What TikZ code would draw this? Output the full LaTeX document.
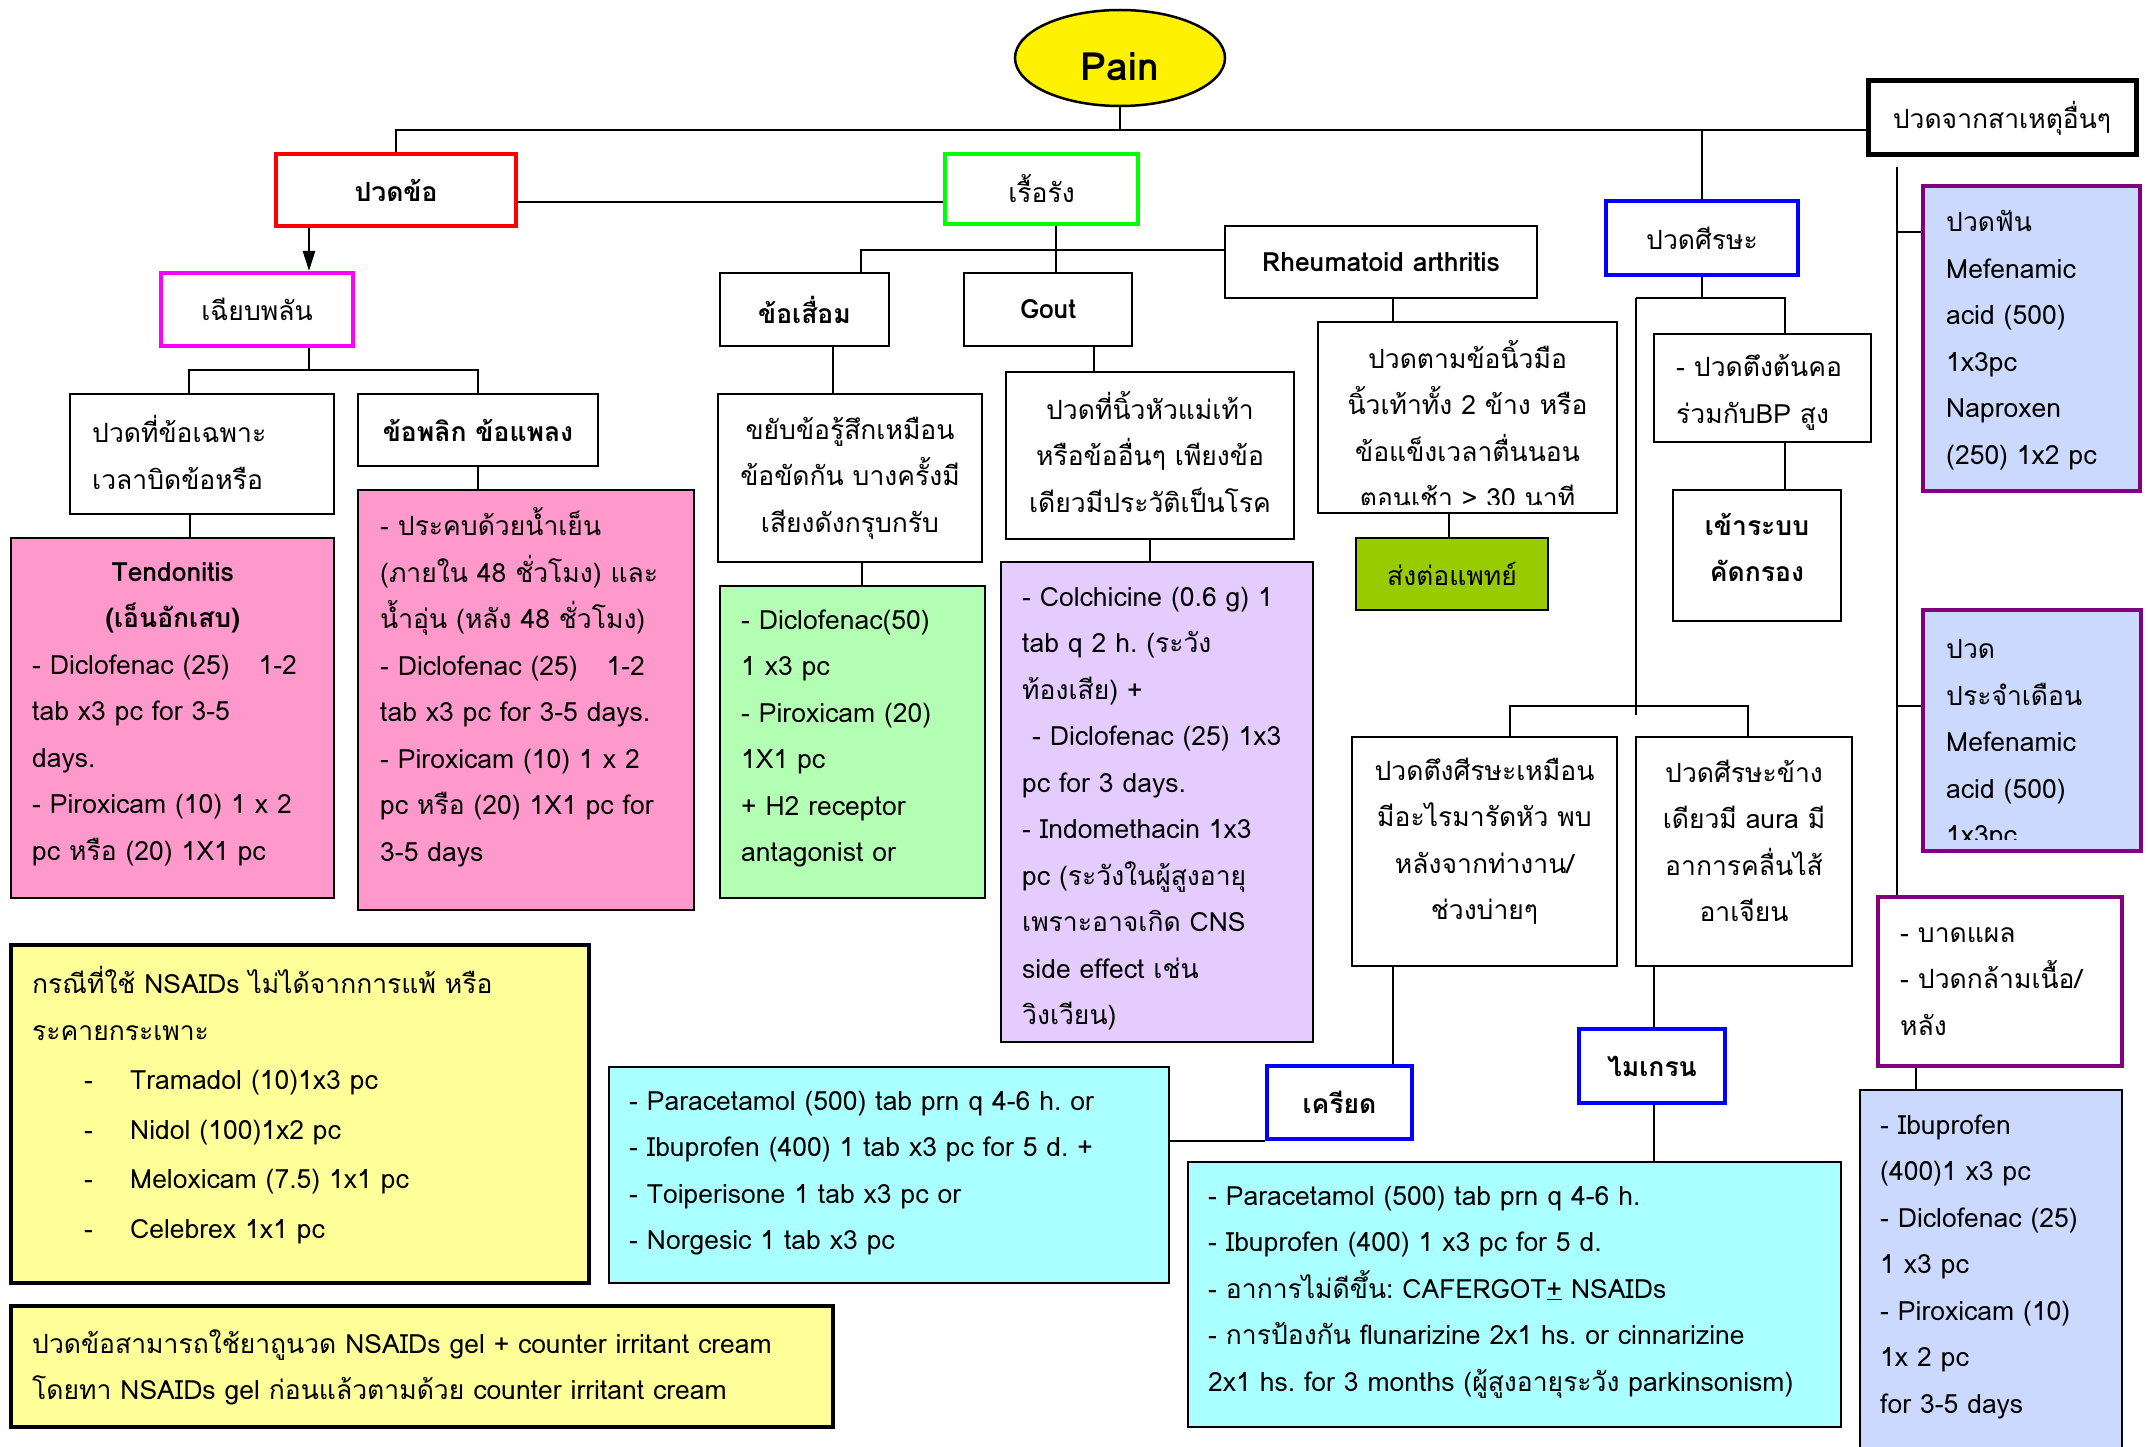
\documentclass[tikz,border=0pt]{standalone}
\usepackage{fontspec}
\setmainfont{Loma}[Script=Thai]
\usetikzlibrary{shapes.geometric,arrows.meta,calc}
\definecolor{pinkF}{HTML}{FF99CC}
\definecolor{lgreenF}{HTML}{B3FFB3}
\definecolor{lavF}{HTML}{E5CCFF}
\definecolor{cyanF}{HTML}{AAFFFF}
\definecolor{yelF}{HTML}{FFFF99}
\definecolor{periF}{HTML}{CCD9FF}
\definecolor{purB}{HTML}{800080}
\definecolor{referF}{HTML}{99CC00}
\definecolor{redB}{HTML}{FF0000}
\definecolor{greenB}{HTML}{00FF00}
\definecolor{magB}{HTML}{FF00FF}
\definecolor{blueB}{HTML}{0000FF}
\newcommand\fz{\fontsize{26.5}{46.5}\selectfont\frenchspacing}
\tikzset{
  bx/.style={draw, line width=2.5pt, inner sep=0pt, font=\fz, align=center},
  cb/.style={line width=4pt},
  thk/.style={line width=5pt},
  ln/.style={line width=2.5pt},
  txt/.style={inner sep=0pt, font=\fz},
  lft/.style={txt, align=left, anchor=west},
  ctr/.style={txt, align=center},
}
\newcommand\Bx[7][]{\node[bx,minimum width={#5-#3},minimum height={#6-#4},#1] (#2) at ({(#3+#5)/2},{(#4+#6)/2}) {#7};}
\begin{document}
\begin{tikzpicture}[x=1pt,y=-1pt]
\fill[white] (0,0) rectangle (2148,1447);
\useasboundingbox (0,0) rectangle (2148,1447);

% ---------- Pain ----------
\node[ellipse, draw, line width=2.5pt, fill=yellow, minimum width=210pt, minimum height=96pt, inner sep=0pt] (pain) at (1120,58) {};
\node[txt, font=\fontsize{39}{44}\selectfont\bfseries] (paint) at (1120,67) {Pain};

% ---------- level 1 ----------
\Bx[draw=redB,cb,font=\fz\bfseries]{pk}{276}{154}{516}{226}{ปวดข้อ}
\Bx[draw=greenB,cb]{cr}{945}{154}{1138}{224}{เรื้อรัง}
\Bx[thk]{other}{1868}{81}{2136}{155}{ปวดจากสาเหตุอื่นๆ}
\Bx[draw=blueB,cb]{head}{1606}{201}{1798}{275}{ปวดศีรษะ}

% ---------- acute branch ----------
\Bx[draw=magB,cb]{ac}{161}{273}{353}{346}{เฉียบพลัน}
\Bx{loc}{70}{394}{334}{514}{}
\node[lft] (loct) at (92,452.5) {ปวดที่ข้อเฉพาะ\\เวลาบิดข้อหรือ};
\Bx[font=\fz\bfseries]{sp}{358}{394}{598}{466}{ข้อพลิก ข้อแพลง}
\Bx[fill=pinkF]{pinkb}{358}{490}{694}{910}{}
\node[lft] (pinkt) at (380,687) {- ประคบด้วยน้ำเย็น\\(ภายใน 48 ชั่วโมง) และ\\น้ำอุ่น (หลัง 48 ชั่วโมง)\\- Diclofenac (25)\hspace{20pt} 1-2\\tab x3 pc for 3-5 days.\\- Piroxicam (10) 1 x 2\\pc หรือ (20) 1X1 pc for\\3-5 days};
\Bx[fill=pinkF]{tendo}{11}{538}{334}{898}{}
\node[lft] (tendot) at (32,714) {\makebox[281pt][c]{\bfseries Tendonitis}\\\makebox[281pt][c]{\bfseries (เอ็นอักเสบ)}\\- Diclofenac (25)\hspace{20pt} 1-2\\tab x3 pc for 3-5\\days.\\- Piroxicam (10) 1 x 2\\pc หรือ (20) 1X1 pc};

% ---------- chronic branch ----------
\Bx[font=\fz\bfseries]{oa}{720}{273}{889}{346}{ข้อเสื่อม}
\Bx[font=\fz\bfseries]{gout}{964}{273}{1132}{346}{Gout}
\Bx[font=\fz\bfseries]{ra}{1225}{226}{1537}{298}{Rheumatoid arthritis}
\Bx{oad}{718}{394}{982}{562}{ขยับข้อรู้สึกเหมือน\\ข้อขัดกัน บางครั้งมี\\เสียงดังกรุบกรับ}
\Bx[fill=lgreenF]{grn}{720}{586}{985}{898}{}
\node[lft] (grnt) at (741,738.5) {- Diclofenac(50)\\1 x3 pc\\- Piroxicam (20)\\1X1 pc\\+ H2 receptor\\antagonist or};
\Bx{goutd}{1006}{372}{1294}{539}{}
\node[ctr] (goutdt) at (1150,452) {ปวดที่นิ้วหัวแม่เท้า\\หรือข้ออื่นๆ เพียงข้อ\\เดียวมีประวัติเป็นโรค};
\Bx[fill=lavF]{pur}{1001}{562}{1313}{1042}{}
\node[lft] (purt) at (1022,808.5) {- Colchicine (0.6 g) 1\\tab q 2 h. (ระวัง\\ท้องเสีย) +\\\hspace*{10pt}- Diclofenac (25) 1x3\\pc for 3 days.\\- Indomethacin 1x3\\pc (ระวังในผู้สูงอายุ\\เพราะอาจเกิด CNS\\side effect เช่น\\วิงเวียน)};
\Bx{rad}{1318}{322}{1617}{513}{}
\begin{scope}
\clip ([shift={(2pt,10pt)}]rad.south west) rectangle ([shift={(-2pt,-2pt)}]rad.north east);
\node[ctr] (radt) at (1467.5,424) {ปวดตามข้อนิ้วมือ\\นิ้วเท้าทั้ง 2 ข้าง หรือ\\ข้อแข็งเวลาตื่นนอน\\ตอนเช้า > 30 นาที};
\end{scope}
\Bx[fill=referF]{refer}{1356}{538}{1548}{610}{ส่งต่อแพทย์}

% ---------- headache branch ----------
\Bx{neck}{1654}{334}{1871}{442}{}
\node[lft] (neckt) at (1676,392.5) {- ปวดตึงต้นคอ\\ร่วมกับBP สูง};
\Bx{screen}{1673}{490}{1841}{621}{}
\node[ctr, font=\fz\bfseries] (screent) at (1757,547.5) {เข้าระบบ\\คัดกรอง};
\Bx{tens}{1352}{737}{1617}{966}{}
\node[ctr] (tenst) at (1484.5,841) {ปวดตึงศีรษะเหมือน\\มีอะไรมารัดหัว พบ\\หลังจากท่างาน/\\ช่วงบ่ายๆ};
\Bx{migd}{1636}{737}{1852}{966}{}
\node[ctr] (migdt) at (1744,841) {ปวดศีรษะข้าง\\เดียวมี aura มี\\อาการคลื่นไส้\\อาเจียน};
\Bx[draw=blueB,cb,font=\fz\bfseries]{stress}{1267}{1066}{1412}{1139}{เครียด}
\Bx[draw=blueB,cb,font=\fz\bfseries]{mig}{1579}{1029}{1725}{1103}{ไมเกรน}
\Bx[fill=cyanF]{cy2}{1188}{1162}{1841}{1427}{}
\node[lft] (cy2t) at (1208,1292) {- Paracetamol (500) tab prn q 4-6 h.\\- Ibuprofen (400) 1 x3 pc for 5 d.\\- อาการไม่ดีขึ้น: CAFERGOT\underline{+} NSAIDs\\- การป้องกัน flunarizine 2x1 hs. or cinnarizine\\2x1 hs. for 3 months (ผู้สูงอายุระวัง parkinsonism)};
\Bx[fill=cyanF]{cy1}{609}{1067}{1169}{1283}{}
\node[lft] (cy1t) at (629,1173) {- Paracetamol (500) tab prn q 4-6 h. or\\- Ibuprofen (400) 1 tab x3 pc for 5 d. +\\- Toiperisone 1 tab x3 pc or\\- Norgesic 1 tab x3 pc};

% ---------- notes ----------
\Bx[fill=yelF,line width=4.5pt]{yel1}{11}{945}{589}{1283}{}
\node[lft] (yel1t) at (32,1105) {กรณีที่ใช้ NSAIDs ไม่ได้จากการแพ้ หรือ\\ระคายกระเพาะ\\[3pt]\hspace*{52pt}\makebox[46pt][l]{-}Tramadol (10)1x3 pc\\[3pt]\hspace*{52pt}\makebox[46pt][l]{-}Nidol (100)1x2 pc\\[3pt]\hspace*{52pt}\makebox[46pt][l]{-}Meloxicam (7.5) 1x1 pc\\[3pt]\hspace*{52pt}\makebox[46pt][l]{-}Celebrex 1x1 pc};
\Bx[fill=yelF,line width=4.5pt]{yel2}{11}{1306}{833}{1427}{}
\node[lft] (yel2t) at (32,1367.5) {ปวดข้อสามารถใช้ยาถูนวด NSAIDs gel + counter irritant cream\\โดยทา NSAIDs gel ก่อนแล้วตามด้วย counter irritant cream};

% ---------- other causes ----------
\Bx[fill=periF,draw=purB,cb]{tooth}{1923}{186}{2140}{491}{}
\node[lft] (tootht) at (1946,340) {ปวดฟัน\\Mefenamic\\acid (500)\\1x3pc\\Naproxen\\(250) 1x2 pc};
\Bx[fill=periF,draw=purB,cb]{mens}{1923}{610}{2141}{851}{}
\begin{scope}
\clip ([shift={(3pt,14pt)}]mens.south west) rectangle ([shift={(-3pt,-3pt)}]mens.north east);
\node[lft] (menst) at (1946,745) {ปวด\\ประจำเดือน\\Mefenamic\\acid (500)\\1x3pc};
\end{scope}
\Bx[draw=purB,cb]{wound}{1878}{897}{2122}{1066}{}
\node[lft] (woundt) at (1900,981.5) {- บาดแผล\\- ปวดกล้ามเนื้อ/\\หลัง};
\Bx[fill=periF]{rx}{1860}{1090}{2122}{1470}{}
\node[lft] (rxt) at (1880,1266.5) {- Ibuprofen\\(400)1 x3 pc\\- Diclofenac (25)\\1 x3 pc\\- Piroxicam (10)\\1x 2 pc\\for 3-5 days};

% ---------- connectors ----------
\coordinate (T) at (0,130);
\draw[ln] (pk.north) -- (pk.north |- T) -- (T -| other.west);
\draw[ln] (pain.south) -- (pain.south |- T);
\draw[ln] (head.north) -- (head.north |- T);
\draw[ln] ([yshift=-12pt]pk.east) -- ([yshift=-12pt]pk.east -| cr.west);
\draw[ln,-{Triangle[length=20pt,width=12pt]}] ([xshift=-87pt]pk.south) -- ([xshift=-87pt]pk.south |- ac.north);
% acute
\coordinate (J1) at (309,370);
\draw[ln] (ac.south -| J1) -- (J1);
\draw[ln] ([xshift=-13pt]loc.north) -- ([xshift=-13pt]loc.north |- J1) -- (sp.north |- J1) -- (sp.north);
\draw[ln] ([xshift=-12pt]loc.south) -- ([xshift=-12pt]loc.south |- tendo.north);
\draw[ln] (sp.south) -- (sp.south |- pinkb.north);
% chronic
\coordinate (J2) at (861,250);
\draw[ln] ([xshift=14.5pt]cr.south) -- ([xshift=14.5pt]cr.south |- gout.north);
\draw[ln] (oa.north -| J2) -- (J2) -- (J2 -| ra.west);
\draw[ln] ([xshift=28.5pt]oa.south) -- ([xshift=28.5pt]oa.south |- oad.north);
\draw[ln] ([xshift=12pt]oad.south) -- ([xshift=12pt]oad.south |- grn.north);
\draw[ln] ([xshift=46pt]gout.south) -- ([xshift=46pt]gout.south |- goutd.north);
\draw[ln] (goutd.south) -- (goutd.south |- pur.north);
\draw[ln] ([xshift=12pt]ra.south) -- ([xshift=12pt]ra.south |- rad.north);
\draw[ln] ([xshift=-18.5pt]rad.south) -- ([xshift=-18.5pt]rad.south |- refer.north);
% headache
\coordinate (H1) at (1636,298);
\coordinate (H2) at (1785,298);
\coordinate (H3) at (1636,715);
\coordinate (H4) at (1510,706);
\coordinate (H5) at (1748,706);
\draw[ln] (head.south) -- (head.south |- H1);
\draw[ln] (H1) -- (H2) -- (H2 |- neck.north);
\draw[ln] (H1) -- (H3);
\draw[ln] (H2 |- neck.south) -- (H2 |- screen.north);
\draw[ln] (H4 |- tens.north) -- (H4) -- (H5) -- (H5 |- migd.north);
\draw[ln] ([xshift=-91.5pt]tens.south) -- ([xshift=-91.5pt]tens.south |- stress.north);
\draw[ln] (cy1.east |- stress.south) -- (stress.south west);
\draw[ln] ([xshift=-90pt]migd.south) -- ([xshift=-90pt]migd.south |- mig.north);
\draw[ln] ([xshift=2pt]mig.south) -- ([xshift=2pt]mig.south |- cy2.north);
% other causes
\coordinate (R0) at (1897,167);
\draw[ln] (R0) -- (R0 |- wound.north);
\draw[ln] ([yshift=106.5pt]tooth.west) -- ([yshift=106.5pt]tooth.west -| R0);
\draw[ln] ([yshift=24.5pt]mens.west) -- ([yshift=24.5pt]mens.west -| R0);
\draw[ln] ([xshift=-84pt]wound.south) -- ([xshift=-84pt]wound.south |- rx.north);
\end{tikzpicture}
\end{document}
